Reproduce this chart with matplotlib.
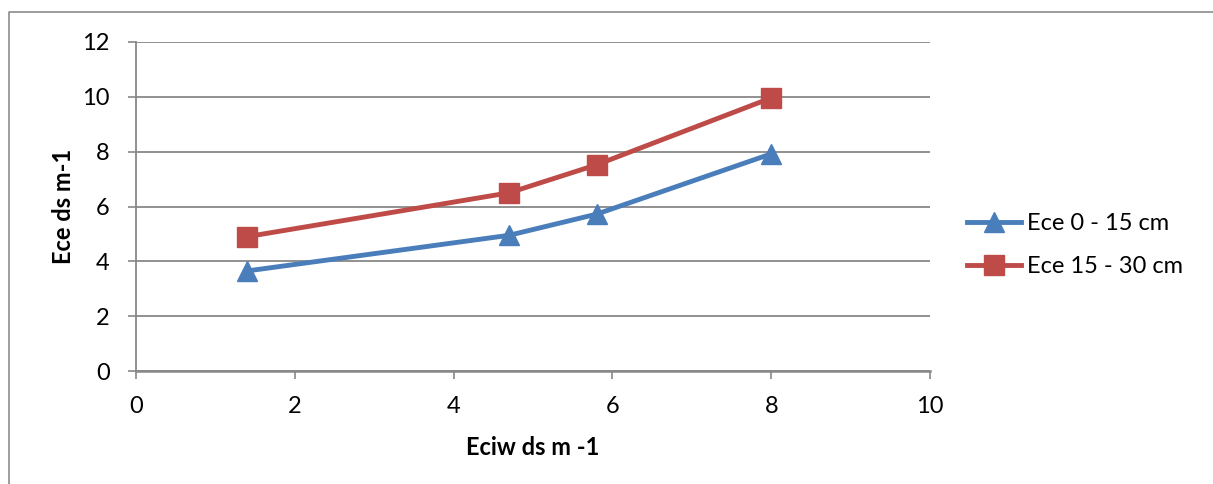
import matplotlib.pyplot as plt
from matplotlib.lines import Line2D

# values
eciw = [1.4, 4.7, 5.8, 8.0]
ece_0_15 = [3.65, 4.95, 5.72, 7.92]
ece_15_30 = [4.9, 6.5, 7.52, 9.96]
series_names = ['Ece 0 - 15 cm', 'Ece 15 - 30 cm']
x_ticks = [0, 2, 4, 6, 8, 10]
y_ticks = [0, 2, 4, 6, 8, 10, 12]

plt.rcParams['font.family'] = ['Lato', 'DejaVu Sans']

blue = '#4A7EBB'
red = '#BE4B48'
grid = '#888888'
fs = 17

fig = plt.figure(figsize=(12.13, 4.84), dpi=100)
ax = fig.add_axes([136/1213, 1-371/484, (930-136)/1213, (371-42)/484])

# chart area border: only left and top edges show in the picture
bx, by = 9/1213, 1 - 12/484
fig.lines.append(Line2D([bx, bx, 1.0], [0.0, by, by], transform=fig.transFigure,
                        color='#8c8c8c', lw=1.2))

ax.plot(eciw, ece_0_15, color=blue, lw=3.5, marker='^', markersize=14,
        label=series_names[0], zorder=3)
ax.plot(eciw, ece_15_30, color=red, lw=3.5, marker='s', markersize=14,
        label=series_names[1], zorder=3)

ax.set_xlim(0, 10)
ax.set_ylim(0, 12)
ax.set_xticks(x_ticks)
ax.set_yticks(y_ticks)
ax.yaxis.grid(True, color=grid, lw=1.3)
ax.set_axisbelow(True)
for s in ['top', 'right']:
    ax.spines[s].set_visible(False)
ax.spines['left'].set_color(grid)
ax.spines['bottom'].set_color(grid)
ax.spines['bottom'].set_linewidth(1.8)
ax.spines['left'].set_linewidth(1.3)
ax.tick_params(axis='both', colors=grid, labelcolor='black', labelsize=fs,
               length=6, width=1.2)
ax.tick_params(axis='x', pad=12)
ax.tick_params(axis='y', pad=13)

ax.set_xlabel('Eciw ds m -1', fontsize=fs, fontweight='bold', labelpad=14)
ax.set_ylabel('Ece ds m-1', fontsize=fs, fontweight='bold', labelpad=5)

fig.legend(loc='center left', bbox_to_anchor=(967/1213, 1 - 245/484),
           bbox_transform=fig.transFigure, frameon=False, fontsize=fs,
           handlelength=2.3, handletextpad=0.25, labelspacing=0.95,
           borderpad=0, borderaxespad=0)

fig.savefig('out.png', dpi=100)
